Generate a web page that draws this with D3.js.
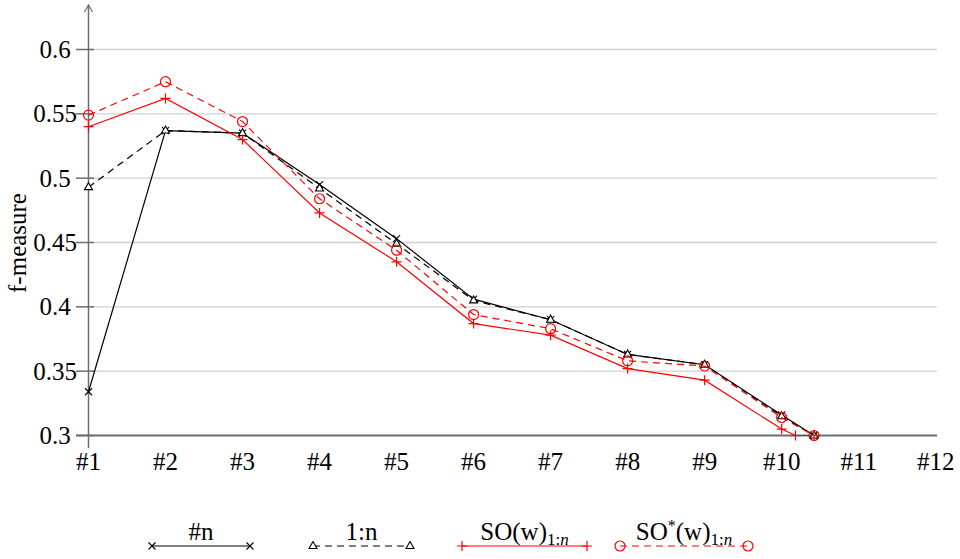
<!DOCTYPE html>
<html>
<head>
<meta charset="utf-8">
<script src="https://cdn.jsdelivr.net/npm/d3@7"></script>
<style>
  html, body { margin: 0; padding: 0; background: #fff; }
  svg text { font-family: "Liberation Serif", "DejaVu Serif", serif; }
</style>
</head>
<body>
<svg id="chart" width="960" height="559"></svg>
<script>
// x positions (#1..#12 is a numeric axis; the series all end just past #10)
const x_ticks = [1, 2, 3, 4, 5, 6, 7, 8, 9, 10, 11, 12];
const x_tick_labels = ["#1", "#2", "#3", "#4", "#5", "#6", "#7", "#8", "#9", "#10", "#11", "#12"];
const y_ticks = [0.3, 0.35, 0.4, 0.45, 0.5, 0.55, 0.6];

const x_main = [1, 2, 3, 4, 5, 6, 7, 8, 9, 10, 10.42];
const x_so_w = [1, 2, 3, 4, 5, 6, 7, 8, 9, 10, 10.18, 10.42];

const n_values = [0.334, 0.537, 0.535, 0.495, 0.453, 0.406, 0.390, 0.363, 0.355, 0.316, 0.300];
const one_n_values = [0.493, 0.537, 0.535, 0.492, 0.449, 0.405, 0.390, 0.363, 0.355, 0.315, 0.300];
const so_w_values = [0.540, 0.562, 0.530, 0.473, 0.435, 0.387, 0.378, 0.352, 0.343, 0.305, 0.300, 0.300];
const so_star_values = [0.549, 0.575, 0.544, 0.484, 0.444, 0.394, 0.383, 0.358, 0.354, 0.314, 0.300];

const series = [
  { name: "#n", xs: x_main, ys: n_values, color: "#000", dash: null, marker: "cross" },
  { name: "1:n", xs: x_main, ys: one_n_values, color: "#000", dash: "7,5", marker: "triangle" },
  { name: "SO(w)", xs: x_so_w, ys: so_w_values, color: "#ff0000", dash: null, marker: "plus" },
  { name: "SO*(w)", xs: x_main, ys: so_star_values, color: "#ff0000", dash: "7,5", marker: "circle" },
];

const svg = d3.select("#chart");
const axis_grey = "#6e6e6e";
const font_size = 25;

const x = d3.scaleLinear().domain([1, 12]).range([88.5, 935.7]);
const y = d3.scaleLinear().domain([0.3, 0.6]).range([435.5, 49.5]);

// grid lines
svg.append("g")
  .selectAll("line")
  .data(y_ticks.slice(1))
  .join("line")
  .attr("x1", x(1))
  .attr("x2", 937)
  .attr("y1", (d) => y(d))
  .attr("y2", (d) => y(d))
  .attr("stroke", "#d0d0d0")
  .attr("stroke-width", 1.4);

// x axis line
svg.append("line")
  .attr("x1", 76).attr("x2", 937)
  .attr("y1", y(0.3)).attr("y2", y(0.3))
  .attr("stroke", axis_grey).attr("stroke-width", 2);

// y axis line with open arrow head
svg.append("line")
  .attr("x1", x(1)).attr("x2", x(1))
  .attr("y1", 448).attr("y2", 5)
  .attr("stroke", axis_grey).attr("stroke-width", 1.5);
svg.append("path")
  .attr("d", `M${x(1) - 4},12 L${x(1)},5 L${x(1) + 4},12`)
  .attr("fill", "none")
  .attr("stroke", axis_grey)
  .attr("stroke-width", 1.2);

// y ticks and labels (labels are centred, as in the original)
const y_tick_g = svg.append("g")
  .selectAll("g")
  .data(y_ticks)
  .join("g")
  .attr("transform", (d) => `translate(0,${y(d)})`);
y_tick_g.append("line")
  .attr("x1", 76).attr("x2", 94)
  .attr("stroke", axis_grey).attr("stroke-width", 1.5);
y_tick_g.append("text")
  .attr("x", 55)
  .attr("dy", "0.34em")
  .attr("text-anchor", "middle")
  .attr("font-size", font_size)
  .text((d) => d3.format("")(d));

// x tick labels
svg.append("g")
  .selectAll("text")
  .data(x_ticks)
  .join("text")
  .attr("x", (d) => x(d))
  .attr("y", 470)
  .attr("text-anchor", "middle")
  .attr("font-size", font_size)
  .text((d, i) => x_tick_labels[i]);

// y axis title
svg.append("text")
  .attr("transform", "translate(26,243) rotate(-90)")
  .attr("text-anchor", "middle")
  .attr("font-size", font_size)
  .text("f-measure");

function draw_marker(g, kind, color) {
  if (kind === "cross") {
    g.append("path").attr("d", "M-3.5,-3.5L3.5,3.5M-3.5,3.5L3.5,-3.5")
      .attr("stroke", color).attr("stroke-width", 1.1).attr("fill", "none");
  } else if (kind === "triangle") {
    g.append("path").attr("d", "M0,-4.5L4,2.5L-4,2.5Z")
      .attr("stroke", color).attr("stroke-width", 1.1).attr("fill", "#fff");
  } else if (kind === "plus") {
    g.append("path").attr("d", "M-5,0L5,0M0,-5L0,5")
      .attr("stroke", color).attr("stroke-width", 1.2).attr("fill", "none");
  } else if (kind === "circle") {
    g.append("circle").attr("r", 5)
      .attr("stroke", color).attr("stroke-width", 1.2).attr("fill", "none");
  }
}

const line = d3.line()
  .x((d) => x(d[0]))
  .y((d) => y(d[1]));

series.forEach((s) => {
  const pts = s.xs.map((v, i) => [v, s.ys[i]]);
  svg.append("path")
    .datum(pts)
    .attr("fill", "none")
    .attr("stroke", s.color)
    .attr("stroke-width", 1.2)
    .attr("stroke-dasharray", s.dash)
    .attr("d", line);
  svg.append("g")
    .selectAll("g")
    .data(pts)
    .join("g")
    .attr("transform", (d) => `translate(${x(d[0])},${y(d[1])})`)
    .each(function () {
      draw_marker(d3.select(this), s.marker, s.color);
    });
});

// legend: text sits above a sample line with markers at both ends
const legend_spans = [[152, 250], [313, 410], [462, 587], [620, 748]];
const legend_y = 546;
series.forEach((s, i) => {
  const [x0, x1] = legend_spans[i];
  const g = svg.append("g");
  g.append("line")
    .attr("x1", x0).attr("x2", x1)
    .attr("y1", legend_y).attr("y2", legend_y)
    .attr("stroke", s.color)
    .attr("stroke-width", 1.2)
    .attr("stroke-dasharray", s.dash);
  [x0, x1].forEach((px) => {
    draw_marker(g.append("g").attr("transform", `translate(${px},${legend_y})`), s.marker, s.color);
  });
  const t = g.append("text")
    .attr("x", (x0 + x1) / 2)
    .attr("y", legend_y - 6)
    .attr("text-anchor", "middle")
    .attr("font-size", font_size);
  if (i < 2) {
    t.text(s.name);
  } else {
    if (i === 2) {
      t.append("tspan").text("SO(w)");
    } else {
      t.append("tspan").text("SO");
      t.append("tspan").attr("font-size", 16).attr("dy", -9).text("*");
      t.append("tspan").attr("dy", 9).text("(w)");
    }
    t.append("tspan").attr("font-size", 17).attr("dy", 5).text("1:");
    t.append("tspan").attr("font-size", 17).attr("font-style", "italic").text("n");
  }
});
</script>
</body>
</html>
